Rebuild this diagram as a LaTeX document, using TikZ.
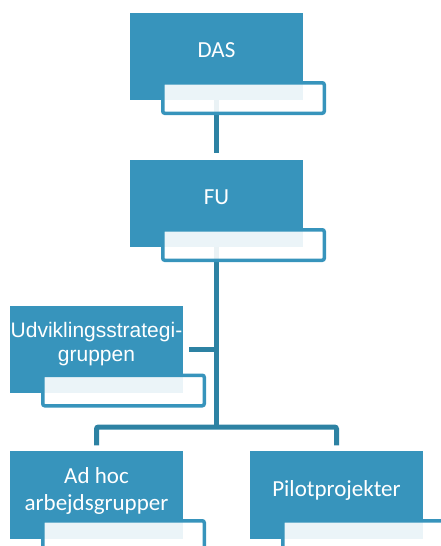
\documentclass[tikz,border=0pt]{standalone}
\usepackage{fontspec}
\setmainfont{Carlito}
\newfontfamily\arialfont{Liberation Sans}
\definecolor{boxblue}{RGB}{55,148,188}
\definecolor{connblue}{RGB}{45,130,163}
\begin{document}
\begin{tikzpicture}[x=1pt,y=-1pt,
  mainbox/.style={fill=boxblue,draw=none,inner sep=0pt,minimum width=173pt,minimum height=87pt},
  subbox/.style={fill=white,fill opacity=0.9,draw=boxblue,draw opacity=1,line width=3.5pt,rounded corners=2pt,inner sep=0pt,minimum width=161.5pt,minimum height=30.5pt},
  conn/.style={draw=connblue,line width=5pt},
  lbl/.style={text=white,font=\fontsize{23}{26.7}\selectfont,inner sep=0pt,anchor=base,align=center},
  lbla/.style={text=white,font=\arialfont\fontsize{21}{24}\selectfont,inner sep=0pt,anchor=base,align=center}]
\useasboundingbox (0,0) rectangle (440,546);
% coordinates
\coordinate (barmid) at (216.5,427);
% main boxes (positions only, drawn later)
\path (216.5,56.5) node[mainbox] (das) {};
\path (216.5,203.5) node[mainbox] (fu) {};
\path (96.5,349.5) node[mainbox] (udv) {};
\path (96.5,495) node[mainbox] (adhoc) {};
\path (336.5,495) node[mainbox] (pilot) {};
% connectors behind
\draw[conn,shorten >=7pt] (das.south) -- (fu.north);
\draw[conn] (fu.south) -- (barmid);
\draw[conn,rounded corners=2pt,shorten <=6pt,shorten >=6pt] (adhoc.north) |- (barmid) -| (pilot.north);
\draw[conn,shorten <=6pt] (udv.east) -- (udv.east -| fu.south);
% redraw main boxes over connectors
\foreach \n in {das,fu,udv,adhoc,pilot}{
  \fill[boxblue] (\n.south west) rectangle (\n.north east);
}
% secondary boxes
\node[subbox] (dassub) at (243.5,98) {};
\node[subbox] (fusub) at (243.5,245) {};
\node[subbox] (udvsub) at (123.5,390.5) {};
\node[subbox] (adhocsub) at (123.5,536) {};
\node[subbox] (pilotsub) at (363.5,536) {};
% texts
\node[lbl] (dastxt) at (216.5,57.3) {DAS};
\node[lbl] (futxt) at (216.5,204.3) {FU};
\node[lbla] (udvtxt) at (96.5,361) {Udviklingsstrategi-\\gruppen};
\node[lbl] (adhoctxt) at (96.5,510) {Ad hoc\\arbejdsgrupper};
\node[lbl] (pilottxt) at (336.5,496) {Pilotprojekter};
\end{tikzpicture}
\end{document}
